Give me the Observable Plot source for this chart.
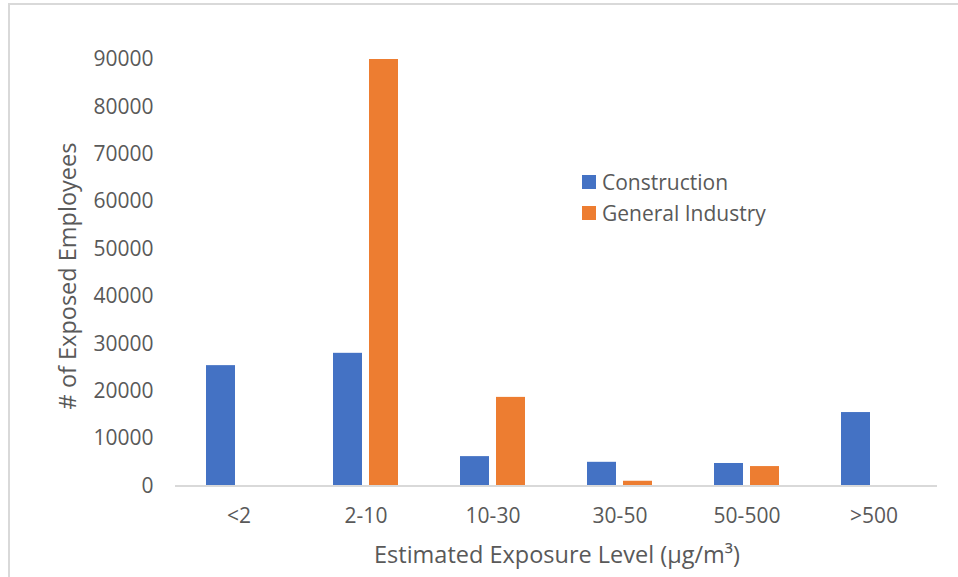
<!DOCTYPE html>
<html>
<head>
<meta charset="utf-8">
<script src="https://cdn.jsdelivr.net/npm/d3@7"></script>
<script src="https://cdn.jsdelivr.net/npm/@observablehq/plot@0.6"></script>
<style>
  html, body { margin: 0; padding: 0; background: #fff; }
  #wrap { position: relative; width: 958px; height: 577px; overflow: hidden; font-family: "Open Sans", sans-serif; color: #595959; }
  #border { position: absolute; left: 8px; top: 3px; width: 2000px; height: 2000px; border-top: 2px solid #d9d9d9; border-left: 2px solid #d9d9d9; }
  #chart { position: absolute; left: 0; top: 0; }
  .title { position: absolute; white-space: nowrap; font-size: 23.5px; line-height: 1; }
  #ytitle { left: 68px; top: 276px; transform: translate(-50%, -50%) rotate(-90deg); }
  #xtitle { left: 557px; top: 555px; transform: translate(-50%, -50%); }
  #legend { position: absolute; left: 582px; top: 166px; font-size: 21px; }
  .li { display: flex; align-items: center; height: 31px; white-space: nowrap; }
  .sw { width: 14px; height: 14px; margin-right: 6px; }
</style>
</head>
<body>
<div id="wrap">
  <div id="border"></div>
  <div id="chart"></div>
  <div id="ytitle" class="title"># of Exposed Employees</div>
  <div id="xtitle" class="title">Estimated Exposure Level (µg/m³)</div>
  <div id="legend"></div>
</div>
<script>
const categories = ["<2", "2-10", "10-30", "30-50", "50-500", ">500"];
const series = ["Construction", "General Industry"];
const colors = ["#4472C4", "#ED7D31"];
const construction = [25400, 28000, 6200, 5000, 4750, 15500];
const generalIndustry = [0, 90000, 18700, 1000, 4100, 0];
const yTicks = [0, 10000, 20000, 30000, 40000, 50000, 60000, 70000, 80000, 90000];

const data = [];
categories.forEach((c, i) => {
  data.push({cat: c, series: series[0], value: construction[i]});
  data.push({cat: c, series: series[1], value: generalIndustry[i]});
});

const chart = Plot.plot({
  width: 958,
  height: 577,
  marginLeft: 175,
  marginRight: 21,
  marginTop: 59,
  marginBottom: 91.5,
  style: {fontFamily: "Open Sans, sans-serif", fontSize: "21px", color: "#595959", background: "transparent"},
  fx: {domain: categories, padding: 0, label: null},
  x: {domain: series, axis: null, paddingInner: 7/36, paddingOuter: 0.861},
  y: {domain: [0, 90000], label: null},
  color: {domain: series, range: colors},
  marks: [
    Plot.barY(data, {fx: "cat", x: "series", y: "value", fill: "series"}),
    Plot.ruleY([0], {stroke: "#d9d9d9", strokeWidth: 2}),
    Plot.axisY({ticks: yTicks, tickSize: 0, tickPadding: 22, tickFormat: d => String(d), label: null, fill: "#595959", fontSize: 21}),
    Plot.axisFx({anchor: "bottom", tickSize: 0, tickPadding: 22, label: null, fill: "#595959", fontSize: 21})
  ]
});
document.getElementById("chart").appendChild(chart);

const legend = document.getElementById("legend");
series.forEach((s, i) => {
  const row = document.createElement("div");
  row.className = "li";
  const sw = document.createElement("div");
  sw.className = "sw";
  sw.style.background = colors[i];
  const t = document.createElement("span");
  t.textContent = s;
  row.appendChild(sw);
  row.appendChild(t);
  legend.appendChild(row);
});
</script>
</body>
</html>
